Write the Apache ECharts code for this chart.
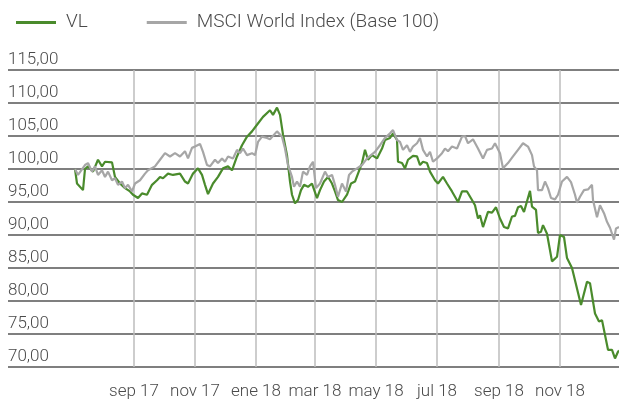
<!DOCTYPE html>
<html>
<head>
<meta charset="utf-8">
<script src="https://cdn.jsdelivr.net/npm/echarts@6/dist/echarts.min.js"></script>
<style>
  html, body { margin: 0; padding: 0; background: #fff; }
  #chart { width: 619px; height: 408px; }
</style>
</head>
<body>
<div id="chart"></div>
<script>
// nombres de las series
const seriesNames = ['VL', 'MSCI World Index (Base 100)']

// etiquetas del eje x (cada dos meses)
const monthTicks = ['2017-09-01', '2017-11-01', '2018-01-01', '2018-03-01', '2018-05-01', '2018-07-01', '2018-09-01', '2018-11-01']
const monthNames = ['ene', 'feb', 'mar', 'abr', 'may', 'jun', 'jul', 'ago', 'sep', 'oct', 'nov', 'dic']

// VL
const vlDates = [
  '2017-07-04', '2017-07-06', '2017-07-12', '2017-07-14', '2017-07-17', '2017-07-22', '2017-07-27', '2017-07-31',
  '2017-08-03', '2017-08-10', '2017-08-13', '2017-08-18', '2017-08-23', '2017-08-28', '2017-08-31', '2017-09-05',
  '2017-09-09', '2017-09-14', '2017-09-19', '2017-09-24', '2017-09-27', '2017-09-30', '2017-10-05', '2017-10-10',
  '2017-10-17', '2017-10-22', '2017-10-25', '2017-10-30', '2017-11-04', '2017-11-08', '2017-11-11', '2017-11-14',
  '2017-11-19', '2017-11-24', '2017-11-29', '2017-12-04', '2017-12-08', '2017-12-13', '2017-12-18', '2017-12-23',
  '2017-12-28', '2018-01-02', '2018-01-08', '2018-01-15', '2018-01-18', '2018-01-22', '2018-01-25', '2018-01-28',
  '2018-02-01', '2018-02-04', '2018-02-06', '2018-02-09', '2018-02-12', '2018-02-15', '2018-02-18', '2018-02-22',
  '2018-02-26', '2018-03-03', '2018-03-06', '2018-03-10', '2018-03-14', '2018-03-18', '2018-03-21', '2018-03-24',
  '2018-03-28', '2018-04-02', '2018-04-06', '2018-04-10', '2018-04-13', '2018-04-17', '2018-04-20', '2018-04-23',
  '2018-04-27', '2018-05-02', '2018-05-07', '2018-05-10', '2018-05-15', '2018-05-18', '2018-05-22', '2018-05-23',
  '2018-05-27', '2018-05-30', '2018-06-02', '2018-06-07', '2018-06-11', '2018-06-14', '2018-06-17', '2018-06-21',
  '2018-06-24', '2018-06-29', '2018-07-02', '2018-07-07', '2018-07-11', '2018-07-16', '2018-07-22', '2018-07-26',
  '2018-07-31', '2018-08-05', '2018-08-08', '2018-08-11', '2018-08-13', '2018-08-16', '2018-08-21', '2018-08-25',
  '2018-08-29', '2018-09-02', '2018-09-06', '2018-09-10', '2018-09-14', '2018-09-17', '2018-09-20', '2018-09-23',
  '2018-09-26', '2018-10-02', '2018-10-04', '2018-10-08', '2018-10-10', '2018-10-13', '2018-10-15', '2018-10-19',
  '2018-10-24', '2018-10-29', '2018-11-01', '2018-11-05', '2018-11-08', '2018-11-13', '2018-11-22', '2018-11-28',
  '2018-12-01', '2018-12-06', '2018-12-10', '2018-12-13', '2018-12-19', '2018-12-23', '2018-12-26', '2018-12-29',
  '2018-12-30'
]
const vlValues = [
  100.0, 97.8, 96.8, 100.0, 100.4, 99.6, 101.4, 100.4,
  101.1, 101.0, 98.8, 97.8, 97.1, 96.6, 96.1, 95.6,
  96.3, 96.1, 97.6, 98.3, 98.8, 98.6, 99.3, 99.1,
  99.3, 98.1, 97.8, 99.3, 100.1, 99.1, 97.6, 96.2,
  97.8, 98.8, 100.1, 100.4, 99.8, 101.9, 103.6, 104.9,
  105.7, 106.7, 107.9, 108.9, 108.2, 109.3, 108.2, 105.2,
  102.1, 98.1, 96.1, 94.8, 95.3, 96.8, 97.6, 97.3,
  97.8, 95.6, 96.8, 98.1, 98.8, 97.8, 96.6, 95.3,
  95.0, 96.1, 97.8, 98.1, 99.3, 100.9, 102.9, 101.4,
  102.1, 101.6, 103.1, 104.4, 104.7, 105.4, 104.4, 101.1,
  100.9, 100.1, 101.4, 102.0, 101.9, 100.6, 101.1, 100.9,
  99.6, 98.3, 97.8, 98.8, 97.8, 96.6, 95.0, 96.6,
  96.6, 95.3, 94.5, 92.5, 93.0, 91.2, 93.5, 93.4,
  94.2, 92.5, 91.2, 91.0, 92.8, 92.9, 94.2, 94.4,
  93.5, 96.7, 94.3, 93.8, 90.3, 90.5, 91.5, 90.2,
  86.0, 86.7, 90.0, 89.7, 86.5, 85.0, 79.4, 82.9,
  82.7, 78.1, 76.9, 77.1, 72.6, 72.6, 71.3, 72.3,
  72.5
]

// MSCI World Index (Base 100)
const msciDates = [
  '2017-07-04', '2017-07-07', '2017-07-14', '2017-07-17', '2017-07-21', '2017-07-24', '2017-07-27', '2017-07-31',
  '2017-08-03', '2017-08-06', '2017-08-10', '2017-08-13', '2017-08-16', '2017-08-20', '2017-08-23', '2017-08-26',
  '2017-08-30', '2017-09-02', '2017-09-07', '2017-09-12', '2017-09-15', '2017-09-22', '2017-09-27', '2017-10-02',
  '2017-10-07', '2017-10-12', '2017-10-17', '2017-10-22', '2017-10-25', '2017-10-29', '2017-11-01', '2017-11-06',
  '2017-11-09', '2017-11-13', '2017-11-16', '2017-11-21', '2017-11-24', '2017-11-28', '2017-12-01', '2017-12-04',
  '2017-12-09', '2017-12-13', '2017-12-16', '2017-12-19', '2017-12-23', '2017-12-28', '2017-12-31', '2018-01-03',
  '2018-01-07', '2018-01-12', '2018-01-15', '2018-01-22', '2018-01-27', '2018-01-30', '2018-02-02', '2018-02-06',
  '2018-02-08', '2018-02-11', '2018-02-14', '2018-02-17', '2018-02-21', '2018-02-24', '2018-02-27', '2018-03-02',
  '2018-03-06', '2018-03-11', '2018-03-14', '2018-03-18', '2018-03-21', '2018-03-24', '2018-03-28', '2018-04-01',
  '2018-04-04', '2018-04-07', '2018-04-12', '2018-04-17', '2018-04-22', '2018-04-26', '2018-04-30', '2018-05-05',
  '2018-05-10', '2018-05-15', '2018-05-18', '2018-05-22', '2018-05-25', '2018-05-28', '2018-06-01', '2018-06-04',
  '2018-06-07', '2018-06-11', '2018-06-14', '2018-06-17', '2018-06-21', '2018-06-24', '2018-06-27', '2018-07-01',
  '2018-07-06', '2018-07-09', '2018-07-12', '2018-07-16', '2018-07-21', '2018-07-26', '2018-07-29', '2018-08-01',
  '2018-08-06', '2018-08-11', '2018-08-16', '2018-08-20', '2018-08-25', '2018-08-28', '2018-09-02', '2018-09-05',
  '2018-09-10', '2018-09-15', '2018-09-20', '2018-09-25', '2018-09-30', '2018-10-04', '2018-10-06', '2018-10-09',
  '2018-10-10', '2018-10-14', '2018-10-17', '2018-10-20', '2018-10-23', '2018-10-27', '2018-10-30', '2018-11-03',
  '2018-11-08', '2018-11-12', '2018-11-16', '2018-11-18', '2018-11-21', '2018-11-25', '2018-11-29', '2018-12-03',
  '2018-12-04', '2018-12-08', '2018-12-11', '2018-12-15', '2018-12-18', '2018-12-21', '2018-12-25', '2018-12-27',
  '2018-12-30'
]
const msciValues = [
  100.0, 99.1, 100.6, 100.9, 99.6, 100.4, 99.1, 99.8,
  98.8, 99.6, 98.3, 98.6, 97.6, 98.1, 97.1, 97.6,
  96.6, 97.8, 98.3, 99.3, 99.8, 100.4, 101.4, 102.4,
  101.9, 102.4, 101.9, 102.7, 101.6, 103.2, 103.4, 103.8,
  102.6, 100.6, 100.4, 101.4, 100.9, 101.6, 101.1, 101.9,
  101.6, 102.9, 102.4, 103.1, 102.1, 102.4, 102.1, 104.1,
  104.9, 104.7, 104.5, 105.7, 104.9, 103.1, 100.6, 98.8,
  97.3, 98.1, 97.3, 99.6, 99.1, 100.4, 101.1, 97.1,
  97.8, 99.6, 98.8, 99.1, 97.6, 95.8, 97.8, 96.6,
  99.1, 99.6, 100.1, 100.6, 101.6, 102.1, 102.6, 103.6,
  104.7, 105.4, 105.9, 104.4, 104.1, 102.9, 103.6, 102.6,
  103.4, 103.9, 104.7, 102.9, 101.9, 102.6, 101.1, 101.6,
  102.4, 103.1, 102.7, 103.4, 103.1, 104.9, 105.0, 103.9,
  104.5, 103.1, 101.6, 102.9, 103.1, 103.9, 102.4, 100.1,
  100.9, 101.9, 102.9, 103.9, 103.4, 102.1, 100.4, 99.8,
  96.8, 96.8, 98.1, 97.1, 95.6, 95.4, 96.1, 98.1,
  98.8, 98.0, 96.1, 94.9, 95.8, 96.8, 96.9, 97.6,
  95.3, 92.7, 94.5, 93.3, 92.0, 91.1, 89.3, 91.0,
  91.2
]

const colors = ['#4a8b2c', '#a6a6a6']
const textColor = '#4a4a4a'
const font = 'Roboto'

// fecha -> marca de tiempo local
const ts = (s) => new Date(s + 'T00:00:00').getTime()

const chart = echarts.init(document.getElementById('chart'))

const option = {
  animation: false,
  color: colors,
  legend: {
    left: 11,
    top: 8,
    icon: 'rect',
    itemWidth: 40,
    itemHeight: 3,
    itemGap: 59,
    textStyle: {
      color: textColor,
      fontFamily: font,
      fontWeight: 300,
      fontSize: 19,
      padding: [0, 0, 0, 5],
    },
    data: seriesNames,
  },
  grid: {
    left: 8,
    right: 0,
    top: 70,
    bottom: 41,
    containLabel: false,
  },
  xAxis: {
    type: 'value',
    min: ts('2017-04-28'),
    max: ts('2018-12-30'),
    axisLine: { show: false },
    axisTick: { show: false, customValues: monthTicks.map(ts) },
    axisLabel: {
      customValues: monthTicks.map(ts),
      color: textColor,
      fontFamily: font,
      fontWeight: 300,
      fontSize: 17,
      margin: 16,
      formatter: (value) => {
        const d = new Date(value)
        return monthNames[d.getMonth()] + ' ' + String(d.getFullYear()).slice(2)
      },
    },
    splitLine: {
      show: true,
      lineStyle: { color: '#bdbdbd', width: 1.5 },
    },
  },
  yAxis: {
    type: 'value',
    min: 70,
    max: 115,
    interval: 5,
    axisLine: { show: false },
    axisTick: { show: false },
    axisLabel: {
      inside: true,
      margin: 0,
      verticalAlign: 'bottom',
      color: textColor,
      fontFamily: font,
      fontWeight: 300,
      fontSize: 17,
      padding: [0, 0, 2, 0],
      formatter: (v) => v.toFixed(2).replace('.', ','),
    },
    splitLine: {
      lineStyle: { color: '#555', width: 1.5 },
    },
  },
  series: [
    {
      name: seriesNames[0],
      type: 'line',
      symbol: 'none',
      lineStyle: { width: 2.2 },
      data: vlDates.map((d, i) => [ts(d), vlValues[i]]),
    },
    {
      name: seriesNames[1],
      type: 'line',
      symbol: 'none',
      lineStyle: { width: 2.2 },
      data: msciDates.map((d, i) => [ts(d), msciValues[i]]),
    },
  ],
}

chart.setOption(option)
</script>
</body>
</html>
